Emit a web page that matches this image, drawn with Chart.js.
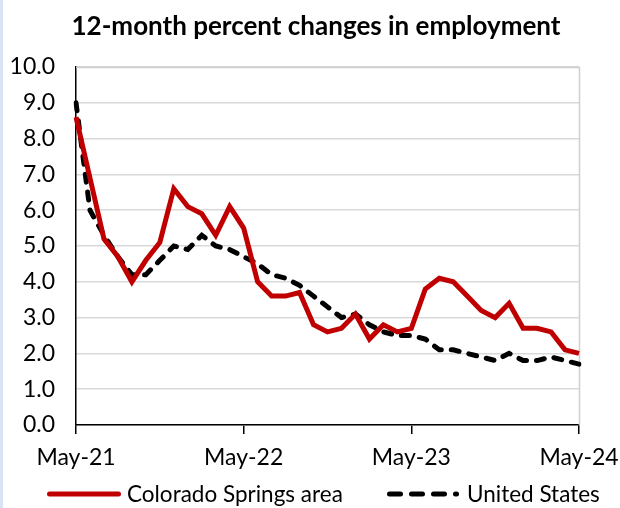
<!DOCTYPE html>
<html>
<head>
<meta charset="utf-8">
<script src="https://cdn.jsdelivr.net/npm/chart.js@4.4.1/dist/chart.umd.min.js"></script>
<style>
  html, body { margin: 0; padding: 0; background: #fff; }
  #wrap { position: relative; width: 620px; height: 508px; border-left: 3px solid #dae3f3; box-sizing: border-box; }
  canvas { display: block; }
</style>
</head>
<body>
<div id="wrap"><canvas id="myChart" width="617" height="508"></canvas></div>
<script>
// monthly, May-21 .. May-24
var months = ['May-21','Jun-21','Jul-21','Aug-21','Sep-21','Oct-21','Nov-21','Dec-21','Jan-22','Feb-22','Mar-22','Apr-22',
              'May-22','Jun-22','Jul-22','Aug-22','Sep-22','Oct-22','Nov-22','Dec-22','Jan-23','Feb-23','Mar-23','Apr-23',
              'May-23','Jun-23','Jul-23','Aug-23','Sep-23','Oct-23','Nov-23','Dec-23','Jan-24','Feb-24','Mar-24','Apr-24',
              'May-24'];
var coloradoSprings = [8.6, 6.9, 5.2, 4.7, 4.0, 4.6, 5.1, 6.6, 6.1, 5.9, 5.3, 6.1,
                       5.5, 4.0, 3.6, 3.6, 3.7, 2.8, 2.6, 2.7, 3.1, 2.4, 2.8, 2.6,
                       2.7, 3.8, 4.1, 4.0, 3.6, 3.2, 3.0, 3.4, 2.7, 2.7, 2.6, 2.1,
                       2.0];
var unitedStates = [9.0, 6.0, 5.3, 4.7, 4.2, 4.2, 4.6, 5.0, 4.9, 5.3, 5.0, 4.9,
                    4.7, 4.5, 4.2, 4.1, 3.9, 3.6, 3.3, 3.0, 3.1, 2.8, 2.6, 2.5,
                    2.5, 2.4, 2.1, 2.1, 2.0, 1.9, 1.8, 2.0, 1.8, 1.8, 1.9, 1.8,
                    1.7];
var tickLabels = ['May-21', 'May-22', 'May-23', 'May-24'];
var seriesNames = ['Colorado Springs area', 'United States'];
var chartTitle = '12-month percent changes in employment';

var FONT = "Lato, 'Open Sans', sans-serif";
var RED = '#c00000';

var framePlugin = {
    id: 'frame',
    beforeDatasetsDraw: function (chart) {
        var a = chart.chartArea, ctx = chart.ctx;
        ctx.save();
        ctx.strokeStyle = '#d0d0d0';
        ctx.lineWidth = 1.5;
        ctx.beginPath();
        ctx.moveTo(a.left, a.top + 0.5);
        ctx.lineTo(a.right + 0.5, a.top + 0.5);
        ctx.lineTo(a.right + 0.5, a.bottom);
        ctx.stroke();
        ctx.restore();
    },
    afterDraw: function (chart) {
        var ctx = chart.ctx;
        ctx.save();
        // title
        ctx.fillStyle = '#000';
        ctx.font = "bold 26px " + FONT;
        ctx.textAlign = 'center';
        ctx.textBaseline = 'alphabetic';
        ctx.fillText(chartTitle, 313, 35);
        // legend (canvas is shifted 3px by the left border)
        ctx.font = "22.5px " + FONT;
        ctx.textAlign = 'left';
        ctx.textBaseline = 'middle';
        var ds = chart.data.datasets;
        var items = [{x: 46.5, w: 69, tx: 124, dash: []}, {x: 386.5, w: 67, tx: 464, dash: [11, 11]}];
        for (var i = 0; i < ds.length; i++) {
            var it = items[i];
            ctx.strokeStyle = ds[i].borderColor;
            ctx.lineWidth = 5;
            ctx.lineCap = 'round';
            ctx.setLineDash(it.dash);
            ctx.beginPath();
            ctx.moveTo(it.x, 494);
            ctx.lineTo(it.x + it.w, 494);
            ctx.stroke();
            ctx.setLineDash([]);
            ctx.fillStyle = '#000';
            ctx.fillText(ds[i].label, it.tx, 495);
        }
        ctx.restore();
    }
};

var ctx = document.getElementById('myChart').getContext('2d');
var chart = new Chart(ctx, {
    type: 'line',
    data: {
        labels: months,
        datasets: [{
            label: seriesNames[0],
            data: coloradoSprings,
            borderColor: RED,
            backgroundColor: RED,
            borderWidth: 5,
            pointRadius: 0,
            tension: 0
        }, {
            label: seriesNames[1],
            data: unitedStates,
            borderColor: '#000',
            backgroundColor: '#000',
            borderWidth: 5,
            borderDash: [8, 10],
            borderCapStyle: 'round',
            pointRadius: 0,
            tension: 0
        }]
    },
    options: {
        responsive: false,
        animation: false,
        layout: { padding: { top: 67, right: 41, bottom: 0, left: 0 } },
        plugins: {
            legend: { display: false },
            title: { display: false },
            tooltip: { enabled: false }
        },
        scales: {
            x: {
                offset: false,
                afterFit: function (s) { s.height = 83; s.paddingLeft = 0; s.paddingRight = 0; },
                border: { display: true, color: '#000', width: 1.5 },
                grid: {
                    drawOnChartArea: false,
                    drawTicks: true,
                    tickLength: 9,
                    color: function (c) { return (c.index % 12 === 0) ? '#000' : 'rgba(0,0,0,0)'; },
                    lineWidth: 1.5
                },
                ticks: {
                    autoSkip: false,
                    maxRotation: 0,
                    padding: 10,
                    color: '#000',
                    font: { family: FONT, size: 23 },
                    callback: function (v, i) {
                        return (i % 12 === 0) ? tickLabels[i / 12] : '';
                    }
                }
            },
            y: {
                min: 0,
                max: 10,
                afterFit: function (s) { s.width = 73; },
                border: { display: true, color: '#000', width: 1.5 },
                grid: {
                    color: '#d9d9d9',
                    lineWidth: 1.5,
                    drawTicks: false
                },
                ticks: {
                    stepSize: 1,
                    padding: 21,
                    color: '#000',
                    font: { family: FONT, size: 23 },
                    callback: function (v) { return v.toFixed(1); }
                }
            }
        }
    },
    plugins: [framePlugin]
});
</script>
</body>
</html>
